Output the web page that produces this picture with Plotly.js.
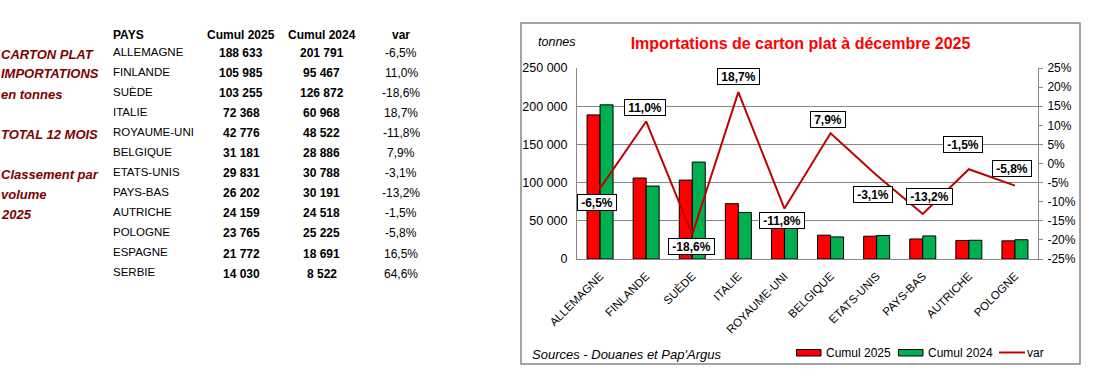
<!DOCTYPE html>
<html>
<head>
<meta charset="utf-8">
<script src="https://cdn.plot.ly/plotly-3.0.1.min.js"></script>
<style>
  html, body { margin: 0; padding: 0; background: #ffffff; }
  #chart { width: 1102px; height: 383px; }
</style>
</head>
<body>
<div id="chart"></div>
<script>
// ---------------- DATA ----------------
const pays = ["ALLEMAGNE", "FINLANDE", "SUÈDE", "ITALIE", "ROYAUME-UNI", "BELGIQUE",
              "ETATS-UNIS", "PAYS-BAS", "AUTRICHE", "POLOGNE", "ESPAGNE", "SERBIE"];
const cumul2025 = [188633, 105985, 103255, 72368, 42776, 31181, 29831, 26202, 24159, 23765, 21772, 14030];
const cumul2024 = [201791, 95467, 126872, 60968, 48522, 28886, 30788, 30191, 24518, 25225, 18691, 8522];
const variation = [-6.5, 11.0, -18.6, 18.7, -11.8, 7.9, -3.1, -13.2, -1.5, -5.8, 16.5, 64.6];
const nChart = 10; // countries shown on the chart
const tableHeaders = ["PAYS", "Cumul 2025", "Cumul 2024", "var"];
const sideNotes = ["CARTON PLAT", "IMPORTATIONS", "en tonnes", "TOTAL 12 MOIS", "Classement par", "volume", "2025"];
const yTickVals = [0, 50000, 100000, 150000, 200000, 250000];
const yTickText = ["0", "50 000", "100 000", "150 000", "200 000", "250 000"];
const y2TickVals = [-25, -20, -15, -10, -5, 0, 5, 10, 15, 20, 25];
const y2TickText = ["-25%", "-20%", "-15%", "-10%", "-5%", "0%", "5%", "10%", "15%", "20%", "25%"];
const chartTitle = "Importations de carton plat à décembre 2025";
const unitLabel = "tonnes";
const sourceLabel = "Sources - Douanes et Pap'Argus";
const legendNames = ["Cumul 2025", "Cumul 2024", "var"];

// ---------------- STYLE ----------------
const W = 1102, H = 383;
const PL = 577, PR = 1038, PT = 68, PB = 259;
const FONT = "Arial, 'Liberation Sans', sans-serif";
const RED = "#ff0000", GREEN = "#00b050", LINE = "#c00000", DARKRED = "#800000", GRAY = "#888888";
// pixel offsets of the data labels relative to their points
const labelShift = [[-3, -14], [-1, 13.5], [-1, -11.5], [0, 16], [-2, -12], [-3, 14],
                    [-4, -19], [7, 17], [-6, 25], [-3, 17.5]];

function px(x) { return (x - PL) / (PR - PL); }
function py(y) { return (PB - y) / (PB - PT); }
function fmtInt(n) { return String(n).replace(/\B(?=(\d{3})+(?!\d))/g, " "); }
function fmtPct(v) { return v.toFixed(1).replace(".", ",") + "%"; }

const ctx = document.createElement("canvas").getContext("2d");
function textW(t, f) { ctx.font = f; return ctx.measureText(t).width; }

const cats = pays.slice(0, nChart);

const traces = [
  { type: "bar", x: cats, y: cumul2025.slice(0, nChart), name: legendNames[0],
    marker: { color: RED, line: { color: "#000000", width: 1 } }, showlegend: false },
  { type: "bar", x: cats, y: cumul2024.slice(0, nChart), name: legendNames[1],
    marker: { color: GREEN, line: { color: "#000000", width: 1 } }, showlegend: false },
  { type: "scatter", mode: "lines", x: cats, y: variation.slice(0, nChart), yaxis: "y2",
    name: legendNames[2], line: { color: LINE, width: 2 }, showlegend: false }
];

const ann = [];
// data labels
for (let i = 0; i < nChart; i++) {
  const t = fmtPct(variation[i]);
  ann.push({
    xref: "x", yref: "y2", x: cats[i], y: variation[i], text: "<b>" + t + "</b>",
    showarrow: false, xshift: labelShift[i][0], yshift: labelShift[i][1],
    font: { family: FONT, size: 12, color: "#000000" },
    bgcolor: "#ffffff", bordercolor: "#000000", borderwidth: 1, borderpad: 1,
    width: Math.round(textW(t, "bold 12px " + FONT)) + 5, height: 13
  });
}
// unit, source
ann.push({ xref: "paper", yref: "paper", x: px(536), y: py(42), xanchor: "left", yanchor: "middle",
  text: "<i>" + unitLabel + "</i>", showarrow: false, font: { family: FONT, size: 12.5, color: "#000" } });
ann.push({ xref: "paper", yref: "paper", x: px(530), y: py(354), xanchor: "left", yanchor: "middle",
  text: "<i>" + sourceLabel + "</i>", showarrow: false, font: { family: FONT, size: 13, color: "#000" } });
// legend texts
const legTextX = [824, 926, 1025];
for (let i = 0; i < 3; i++) {
  ann.push({ xref: "paper", yref: "paper", x: px(legTextX[i]), y: py(352.5), xanchor: "left", yanchor: "middle",
    text: legendNames[i], showarrow: false, font: { family: FONT, size: 12, color: "#000" } });
}
// left side notes
const noteY = [54.5, 73.3, 94, 134, 174.3, 194.3, 214];
for (let i = 0; i < sideNotes.length; i++) {
  ann.push({ xref: "paper", yref: "paper", x: px(-1.5), y: py(noteY[i]), xanchor: "left", yanchor: "middle",
    text: "<b><i>" + sideNotes[i] + "</i></b>", showarrow: false, font: { family: FONT, size: 13, color: DARKRED } });
}
// table header
const colX = [110.7, 241, 321.5, 401];
for (let c = 0; c < 4; c++) {
  ann.push({ xref: "paper", yref: "paper", x: px(colX[c]), y: py(35), xanchor: c === 0 ? "left" : "center",
    yanchor: "middle", text: "<b>" + tableHeaders[c] + "</b>", showarrow: false,
    font: { family: FONT, size: 12, color: "#000" } });
}
// table rows
for (let r = 0; r < pays.length; r++) {
  const yn = 51.5 + 20.05 * r, yv = 53 + 20.05 * r;
  ann.push({ xref: "paper", yref: "paper", x: px(colX[0]), y: py(yn), xanchor: "left", yanchor: "middle",
    text: pays[r], showarrow: false, font: { family: FONT, size: 11.5, color: "#000" } });
  ann.push({ xref: "paper", yref: "paper", x: px(colX[1]), y: py(yv), xanchor: "center", yanchor: "middle",
    text: "<b>" + fmtInt(cumul2025[r]) + "</b>", showarrow: false, font: { family: FONT, size: 12, color: "#000" } });
  ann.push({ xref: "paper", yref: "paper", x: px(colX[2]), y: py(yv), xanchor: "center", yanchor: "middle",
    text: "<b>" + fmtInt(cumul2024[r]) + "</b>", showarrow: false, font: { family: FONT, size: 12, color: "#000" } });
  ann.push({ xref: "paper", yref: "paper", x: px(colX[3]), y: py(yv), xanchor: "center", yanchor: "middle",
    text: fmtPct(variation[r]), showarrow: false, font: { family: FONT, size: 12, color: "#000" } });
}

const shapes = [
  // chart frame
  { type: "rect", xref: "paper", yref: "paper", x0: px(521), x1: px(1080), y0: py(364), y1: py(23),
    line: { color: GRAY, width: 1.5 }, fillcolor: "rgba(0,0,0,0)", layer: "below" },
  // legend swatches
  { type: "rect", xref: "paper", yref: "paper", x0: px(796.5), x1: px(821), y0: py(356), y1: py(349.5),
    line: { color: "#000", width: 1 }, fillcolor: RED },
  { type: "rect", xref: "paper", yref: "paper", x0: px(898.5), x1: px(923), y0: py(356), y1: py(349.5),
    line: { color: "#000", width: 1 }, fillcolor: GREEN },
  { type: "line", xref: "paper", yref: "paper", x0: px(999), x1: px(1025), y0: py(352.5), y1: py(352.5),
    line: { color: LINE, width: 2 } }
];

const layout = {
  width: W, height: H,
  margin: { l: PL, r: W - PR, t: PT, b: H - PB, pad: 0 },
  paper_bgcolor: "#ffffff", plot_bgcolor: "#ffffff",
  font: { family: FONT, size: 12, color: "#000" },
  title: { text: "<b>" + chartTitle + "</b>", font: { family: FONT, size: 16, color: RED },
    xref: "paper", x: px(800.5), xanchor: "center", yref: "container", y: 1 - 43 / H, yanchor: "middle" },
  barmode: "group", bargap: 0.436, bargroupgap: 0,
  showlegend: false,
  xaxis: { type: "category", range: [-0.5, nChart - 0.5], tickangle: -45, showgrid: false,
    showline: true, linecolor: GRAY, linewidth: 1, ticks: "", zeroline: false, ticklabelstandoff: 5,
    tickfont: { family: FONT, size: 11.5, color: "#000" }, fixedrange: true },
  yaxis: { range: [0, 250000], tickvals: yTickVals, ticktext: yTickText, showgrid: true,
    gridcolor: GRAY, gridwidth: 1, showline: true, linecolor: GRAY, linewidth: 1, ticks: "",
    zeroline: false, tickfont: { family: FONT, size: 12.5, color: "#000" }, ticklabelstandoff: 6 },
  yaxis2: { overlaying: "y", side: "right", range: [-25, 25], tickvals: y2TickVals, ticktext: y2TickText,
    showgrid: false, zeroline: false, showline: true, linecolor: GRAY, linewidth: 1, ticklabelstandoff: 2,
    ticks: "outside", ticklen: 4, tickcolor: GRAY, tickfont: { family: FONT, size: 12, color: "#000" } },
  annotations: ann,
  shapes: shapes
};

Plotly.newPlot("chart", traces, layout, { staticPlot: true, displayModeBar: false });
</script>
</body>
</html>
